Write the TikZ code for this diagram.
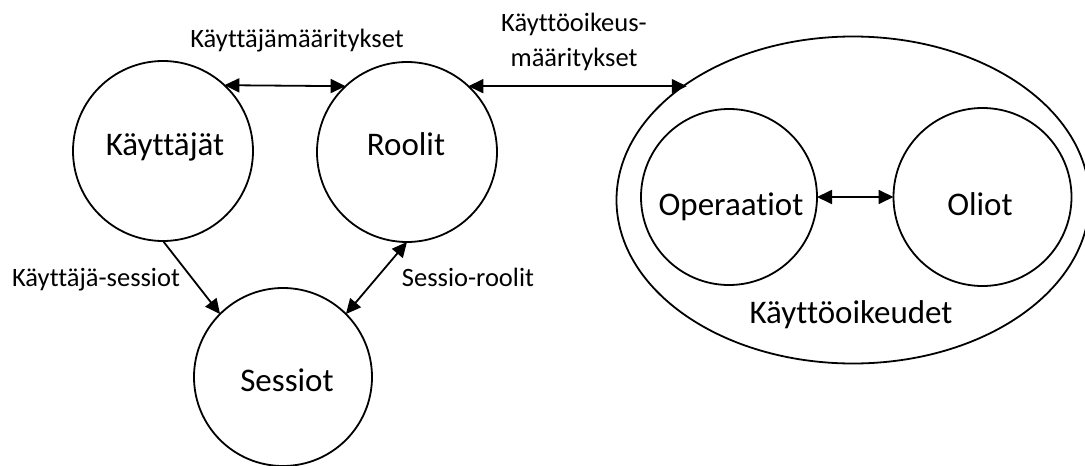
\documentclass[tikz,border=0pt]{standalone}
\usepackage{fontspec}
\setmainfont{Carlito}[Ligatures=NoCommon]
\usetikzlibrary{arrows.meta,shapes.geometric}
\begin{document}
\begin{tikzpicture}[x=1pt,y=-1pt,
  every node/.style={inner sep=0pt, outer sep=0pt},
  entity/.style={circle, draw, line width=1.8pt, minimum size=#1},
  entity/.default=180pt,
  biglabel/.style={font=\fontsize{33}{40}\selectfont, anchor=base},
  smalllabel/.style={font=\fontsize{26.5}{35}\selectfont, anchor=base, align=center},
  link/.style={line width=1.8pt, -{Triangle[length=15pt,width=14pt]}},
  dlink/.style={line width=1.8pt, {Triangle[length=15pt,width=14pt]}-{Triangle[length=15pt,width=14pt]}}]
  \useasboundingbox (0,0) rectangle (1085,466);

  % role-based access model: users, roles, sessions
  \node[entity] (K) at (163,151) {};
  \node[entity] (R) at (407,152) {};
  \node[entity=178pt] (S) at (283,377) {};

  % permissions: operations and objects
  \node[ellipse, draw, line width=1.8pt, minimum width=473pt, minimum height=327pt] (E) at (853,200) {};
  \node[entity=176pt] (O) at (729,197) {};
  \node[entity=178pt] (L) at (982.5,197) {};

  % texts inside the shapes
  \node[biglabel] (tK) at (165,155) {Käyttäjät};
  \node[biglabel] (tR) at (406,155) {Roolit};
  \node[biglabel] (tS) at (287,391) {Sessiot};
  \node[biglabel] (tO) at (731,215) {Operaatiot};
  \node[biglabel] (tL) at (980,215) {Oliot};
  \node[biglabel] (tE) at (851,323) {Käyttöoikeudet};

  % connector labels (a two-line node sits on the baseline of its last line)
  \node[smalllabel] (lKR) at (297,47) {Käyttäjämääritykset};
  \node[smalllabel] (lRE) at (574,66) {Käyttöoikeus-\\määritykset};
  \node[smalllabel] (lKS) at (96,286) {Käyttäjä-sessiot};
  \node[smalllabel] (lRS) at (468,286) {Sessio-roolit};

  % connectors
  \draw[dlink] (K.47) -- (R.133);
  \draw[dlink] (R.47) -- (R.47 -| E.145);
  \draw[link] (K.south) -- (S.north west);
  \draw[dlink] (R.south) -- (S.north east);
  \draw[dlink] (O.east) -- (L.west);
\end{tikzpicture}
\end{document}
